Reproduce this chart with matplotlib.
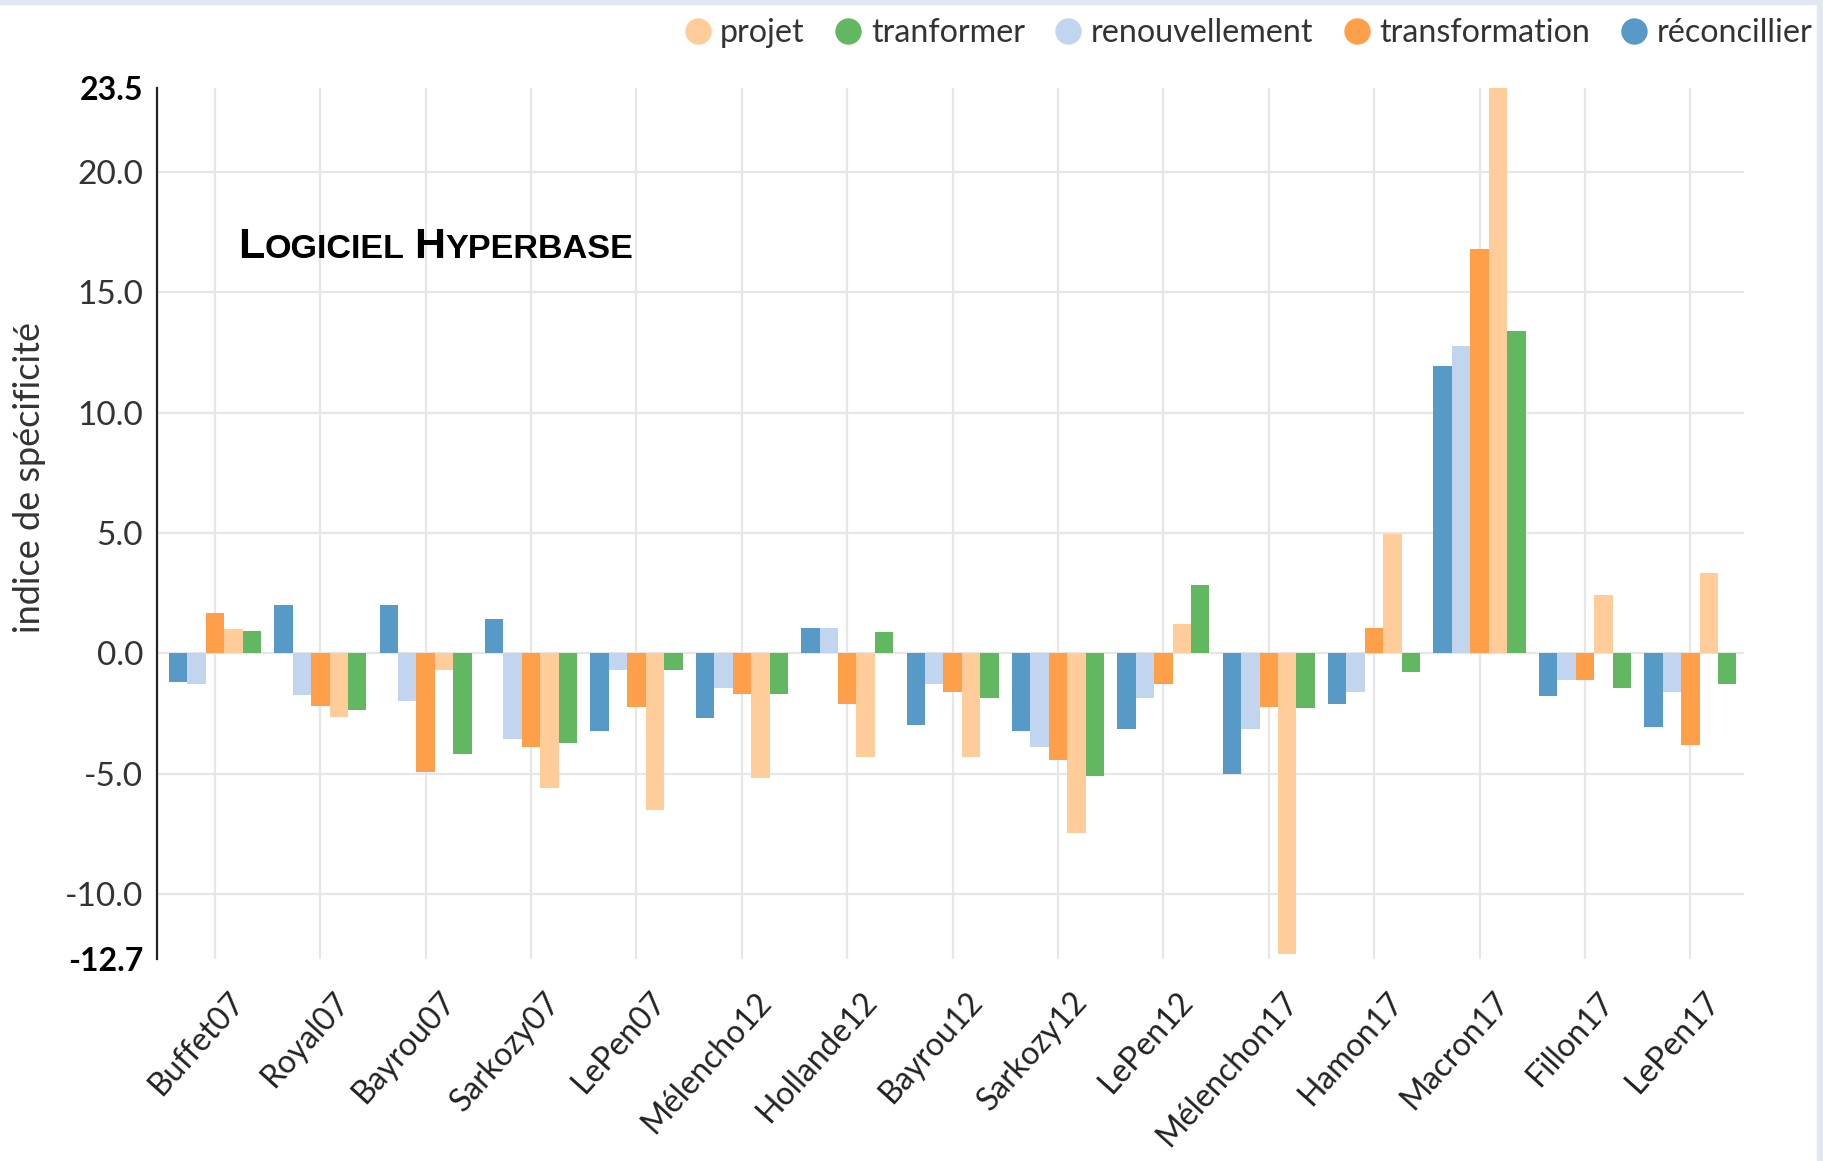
import numpy as np
import matplotlib
matplotlib.use("Agg")
import matplotlib.pyplot as plt
import matplotlib.transforms as mtransforms
from matplotlib.lines import Line2D
from matplotlib.patches import Rectangle

# --- data ---
candidates = ["Buffet07", "Royal07", "Bayrou07", "Sarkozy07", "LePen07",
              "Mélencho12", "Hollande12", "Bayrou12", "Sarkozy12", "LePen12",
              "Mélenchon17", "Hamon17", "Macron17", "Fillon17", "LePen17"]

reconcillier = [-1.19, 1.99, 1.99, 1.41, -3.22, -2.67, 1.06, -2.99, -3.22, -3.15,
                -5.00, -2.10, 11.93, -1.76, -3.06]
renouvellement = [-1.26, -1.75, -2.00, -3.56, -0.70, -1.44, 1.06, -1.28, -3.89, -1.85,
                  -3.14, -1.60, 12.75, -1.11, -1.60]
transformation = [1.68, -2.17, -4.94, -3.89, -2.24, -1.69, -2.11, -1.61, -4.44, -1.28,
                  -2.25, 1.06, 16.79, -1.11, -3.79]
projet = [1.00, -2.66, -0.70, -5.60, -6.50, -5.19, -4.29, -4.29, -7.46, 1.22,
          -12.50, 4.97, 23.50, 2.43, 3.33]
tranformer = [0.92, -2.34, -4.20, -3.73, -0.70, -1.69, 0.90, -1.85, -5.11, 2.85,
              -2.26, -0.79, 13.39, -1.44, -1.28]

y_min, y_max = -12.7, 23.5
y_ticks = [-10.0, -5.0, 0.0, 5.0, 10.0, 15.0, 20.0]

# bar order inside a group, and legend order
series = [("réconcillier", reconcillier, "#5799c7"),
          ("renouvellement", renouvellement, "#c2d5ee"),
          ("transformation", transformation, "#ff9f4a"),
          ("projet", projet, "#ffcc9a"),
          ("tranformer", tranformer, "#61b861")]
legend_order = ["projet", "tranformer", "renouvellement", "transformation", "réconcillier"]

FONT = "Lato"
TXT = "#333333"

fig = plt.figure(figsize=(18.23, 11.61), dpi=100)
ax = fig.add_axes([0.0861, 0.174, 0.8706, 0.7504])

x = np.arange(len(candidates))
bar_w = 0.175
for i, (name, vals, col) in enumerate(series):
    offs = (i - 2) * bar_w
    ax.bar(x + offs, vals, width=bar_w, color=col, edgecolor="none", zorder=3)

# grid
for yv in y_ticks:
    ax.axhline(yv, color="#e6e6e6", lw=1.6, zorder=1)
for xv in x:
    ax.axvline(xv, color="#e6e6e6", lw=1.6, zorder=1)

ax.set_xlim(-0.55, 14.51)
ax.set_ylim(y_min, y_max)

for s in ["top", "right", "bottom"]:
    ax.spines[s].set_visible(False)
ax.spines["left"].set_color("#222222")
ax.spines["left"].set_linewidth(1.6)

# y ticks: end values bold
all_ticks = [y_min] + y_ticks + [y_max]
ax.set_yticks(all_ticks)
ax.set_yticklabels([f"{v:.1f}" for v in all_ticks])
ax.tick_params(axis="y", length=0, pad=10)
for lab, v in zip(ax.get_yticklabels(), all_ticks):
    lab.set_fontfamily(FONT)
    if v in (y_min, y_max):
        lab.set_fontweight("bold")
        lab.set_color("black")
        lab.set_fontsize(23)
    else:
        lab.set_color(TXT)
        lab.set_fontsize(24)

# x ticks
ax.set_xticks(x)
ax.set_xticklabels(candidates, rotation=48, ha="right", rotation_mode="anchor",
                   fontsize=23, family=FONT, color="#222222")
ax.tick_params(axis="x", length=0, pad=20)
shift = mtransforms.ScaledTranslation(0.13, 0, fig.dpi_scale_trans)
for lab in ax.get_xticklabels():
    lab.set_transform(lab.get_transform() + shift)

ax.text(-0.0805, 0.553, "indice de spécificité", transform=ax.transAxes,
        rotation=90, ha="center", va="center", fontsize=26, family=FONT, color=TXT)

# watermark in small caps
renderer = fig.canvas.get_renderer()
offset = 0.0
for piece, size, gap in [("L", 31, 0), ("OGICIEL", 24.6, 10), ("H", 31, 0), ("YPERBASE", 24.6, 0)]:
    tr = mtransforms.offset_copy(ax.transAxes, fig=fig, x=offset, y=0, units="dots")
    t = ax.text(0.051, 0.805, piece, transform=tr, fontsize=size, fontweight="bold",
                family="Liberation Sans", color="black", va="baseline", ha="left")
    offset += t.get_window_extent(renderer).width + gap

# legend
col_map = {name: col for name, _, col in series}
handles = [Line2D([], [], marker="o", linestyle="", markersize=19,
                  markerfacecolor=col_map[n], markeredgecolor="none") for n in legend_order]
leg = fig.legend(handles, legend_order, loc="center right", bbox_to_anchor=(0.994, 0.9716),
                 ncol=5, frameon=False, handletextpad=0.2, columnspacing=0.85,
                 handlelength=1.0, borderaxespad=0, borderpad=0,
                 prop={"family": FONT, "size": 23.2})
for t in leg.get_texts():
    t.set_color(TXT)

# thin light-blue frame on the screenshot edges
fig.patches.append(Rectangle((0, 1 - 4 / 1161), 1, 4 / 1161, transform=fig.transFigure,
                             color="#dfe8f3", zorder=0))
fig.patches.append(Rectangle((1 - 6 / 1823, 0), 6 / 1823, 1, transform=fig.transFigure,
                             color="#dfe8f3", zorder=0))

fig.savefig("out.png", dpi=100)
